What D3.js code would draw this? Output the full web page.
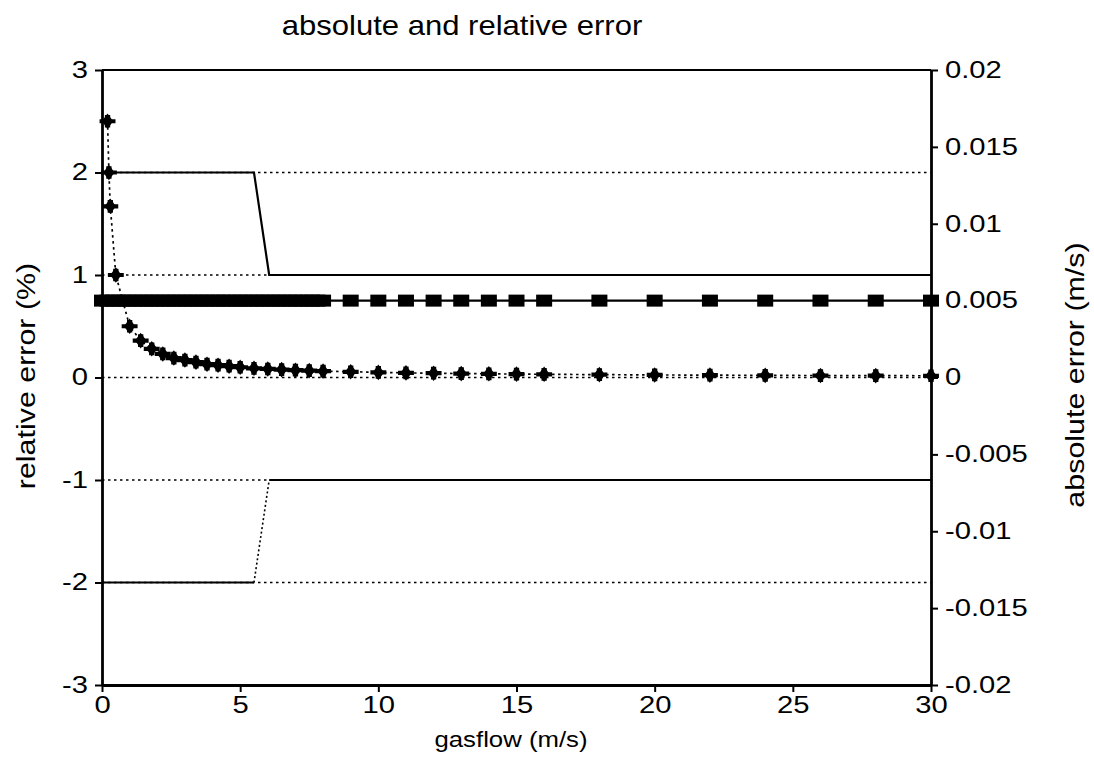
<!DOCTYPE html>
<html>
<head>
<meta charset="utf-8">
<script src="https://cdn.jsdelivr.net/npm/d3@7"></script>
<style>
  html, body { margin: 0; padding: 0; background: #fff; }
  svg text { font-family: "Liberation Sans", Arial, Helvetica, sans-serif; fill: #000; }
</style>
</head>
<body>
<svg id="chart" width="1094" height="766"></svg>
<script>
// ── Data ───────────────────────────────────────────────
// absolute error series (right axis, m/s)
const absX = [0, 0.2, 0.4, 0.6, 0.8, 1, 1.2, 1.4, 1.6, 1.8, 2, 2.2, 2.4, 2.6, 2.8, 3,
  3.2, 3.4, 3.6, 3.8, 4, 4.2, 4.4, 4.6, 4.8, 5, 5.2, 5.4, 5.6, 5.8, 6, 6.2, 6.4, 6.6,
  6.8, 7, 7.2, 7.4, 7.6, 7.8, 8, 9, 10, 11, 12, 13, 14, 15, 16, 18, 20, 22, 24, 26, 28, 30];
const absErr = [0.005, 0.005, 0.005, 0.005, 0.005, 0.005, 0.005, 0.005, 0.005, 0.005,
  0.005, 0.005, 0.005, 0.005, 0.005, 0.005, 0.005, 0.005, 0.005, 0.005, 0.005, 0.005,
  0.005, 0.005, 0.005, 0.005, 0.005, 0.005, 0.005, 0.005, 0.005, 0.005, 0.005, 0.005,
  0.005, 0.005, 0.005, 0.005, 0.005, 0.005, 0.005, 0.005, 0.005, 0.005, 0.005, 0.005,
  0.005, 0.005, 0.005, 0.005, 0.005, 0.005, 0.005, 0.005, 0.005, 0.005];

// relative error series (left axis, %)
const relX = [0.2, 0.25, 0.3, 0.5, 1, 1.4, 1.8, 2.2, 2.6, 3, 3.4, 3.8, 4.2, 4.6, 5, 5.5,
  6, 6.5, 7, 7.5, 8, 9, 10, 11, 12, 13, 14, 15, 16, 18, 20, 22, 24, 26, 28, 30];
const relErr = [2.5, 2.0, 1.67, 1.0, 0.5, 0.36, 0.28, 0.23, 0.19, 0.17, 0.15, 0.13,
  0.12, 0.11, 0.1, 0.09, 0.083, 0.077, 0.071, 0.067, 0.062, 0.056, 0.05, 0.045, 0.042,
  0.038, 0.036, 0.033, 0.031, 0.028, 0.025, 0.023, 0.021, 0.019, 0.018, 0.017];

// limit lines (left axis, %)
const upperX = [0, 5.5, 6.05, 30];
const upperY = [2, 2, 1, 1];
const lowerX = [0, 5.5, 6.05, 30];
const lowerY = [-2, -2, -1, -1];

// dotted reference levels (left axis, %)
const refLevels = [2, 1, 0, -1, -2];

const xTicks = [0, 5, 10, 15, 20, 25, 30];
const yLeftTicks = [3, 2, 1, 0, -1, -2, -3];
const yRightTicks = [0.02, 0.015, 0.01, 0.005, 0, -0.005, -0.01, -0.015, -0.02];
const yRightLabels = ['0.02', '0.015', '0.01', '0.005', '0', '-0.005', '-0.01', '-0.015', '-0.02'];

// ── Layout ─────────────────────────────────────────────
const L = 102, R = 931, T = 70, B = 685;
const TICK_STRETCH = 1.27;   // scanned lettering is wider than Liberation Sans
const svg = d3.select('#chart');

const x  = d3.scaleLinear().domain([0, 30]).range([L, R]);
const yL = d3.scaleLinear().domain([-3, 3]).range([B, T]);
const yR = d3.scaleLinear().domain([-0.02, 0.02]).range([B, T]);

const DOT = '2.5,3.5';

// reference dotted lines
svg.append('g').selectAll('line').data(refLevels).join('line')
  .attr('x1', x(0)).attr('x2', x(30))
  .attr('y1', d => yL(d)).attr('y2', d => yL(d))
  .attr('stroke', '#000').attr('stroke-width', 1.7)
  .attr('stroke-dasharray', DOT);

// upper limit (solid)
const upper = upperX.map((v, i) => [v, upperY[i]]);
svg.append('path')
  .attr('d', d3.line().x(d => x(d[0])).y(d => yL(d[1]))(upper))
  .attr('fill', 'none').attr('stroke', '#000').attr('stroke-width', 2.2);

// lower limit: solid flats, dotted step
const lower = lowerX.map((v, i) => [v, lowerY[i]]);
const lowLine = d3.line().x(d => x(d[0])).y(d => yL(d[1]));
svg.append('path').attr('d', lowLine(lower.slice(0, 2)))
  .attr('fill', 'none').attr('stroke', '#000').attr('stroke-width', 1.8);
svg.append('path').attr('d', lowLine(lower.slice(2)))
  .attr('fill', 'none').attr('stroke', '#000').attr('stroke-width', 2.2);
svg.append('path').attr('d', lowLine(lower.slice(1, 3)))
  .attr('fill', 'none').attr('stroke', '#000').attr('stroke-width', 1.6)
  .attr('stroke-dasharray', '2,2.5');

// absolute error: solid line + squares
const absPts = absX.map((v, i) => [v, absErr[i]]);
svg.append('path')
  .attr('d', d3.line().x(d => x(d[0])).y(d => yR(d[1]))(absPts))
  .attr('fill', 'none').attr('stroke', '#000').attr('stroke-width', 2.2);
svg.append('g').selectAll('rect').data(absPts).join('rect')
  .attr('x', d => x(d[0]) - 8).attr('y', d => yR(d[1]) - 6)
  .attr('width', 16).attr('height', 12)
  .attr('fill', '#000');

// relative error: dotted line + star markers
const relPts = relX.map((v, i) => [v, relErr[i]]);
svg.append('path')
  .attr('d', d3.line().x(d => x(d[0])).y(d => yL(d[1]))(relPts))
  .attr('fill', 'none').attr('stroke', '#000').attr('stroke-width', 1.7)
  .attr('stroke-dasharray', DOT);
const mk = svg.append('g').selectAll('g').data(relPts).join('g')
  .attr('transform', d => `translate(${x(d[0])},${yL(d[1])}) scale(1.25,1)`);
mk.append('path').attr('d', d3.symbol(d3.symbolCross, 90)()).attr('fill', '#000');
mk.append('path').attr('d', d3.symbol(d3.symbolDiamond, 70)()).attr('fill', '#000');

// ── Axes ───────────────────────────────────────────────
// top frame
svg.append('line')
  .attr('x1', L).attr('x2', R).attr('y1', T).attr('y2', T)
  .attr('stroke', '#000').attr('stroke-width', 2.2);

function styleAxis(g) {
  g.select('.domain').attr('stroke', '#000').attr('stroke-width', 2.8);
  g.selectAll('.tick line').attr('stroke', '#000').attr('stroke-width', 2);
  g.selectAll('.tick text')
    .attr('font-size', 23)
    .attr('font-family', '"Liberation Sans", Arial, sans-serif')
    .attr('fill', '#000')
    .attr('transform', `scale(${TICK_STRETCH},1)`);
}

svg.append('g')
  .attr('transform', `translate(0,${B})`)
  .call(d3.axisBottom(x).tickValues(xTicks).tickSize(7).tickSizeOuter(0).tickPadding(5))
  .call(styleAxis);

svg.append('g')
  .attr('transform', `translate(${L},0)`)
  .call(d3.axisLeft(yL).tickValues(yLeftTicks).tickSize(7).tickSizeOuter(0).tickPadding(4)
    .tickFormat(d => String(d)))
  .call(styleAxis);

svg.append('g')
  .attr('transform', `translate(${R},0)`)
  .call(d3.axisRight(yR).tickValues(yRightTicks).tickSize(7).tickSizeOuter(0).tickPadding(4)
    .tickFormat((d, i) => yRightLabels[i]))
  .call(styleAxis);

// ── Labels ─────────────────────────────────────────────
svg.append('text')
  .attr('transform', 'translate(462,35) scale(1.15,1)')
  .attr('text-anchor', 'middle')
  .attr('font-size', 27)
  .text('absolute and relative error');

svg.append('text')
  .attr('transform', 'translate(511,747) scale(1.12,1)')
  .attr('text-anchor', 'middle')
  .attr('font-size', 23)
  .text('gasflow (m/s)');

svg.append('text')
  .attr('transform', 'translate(35,376) rotate(-90) scale(1.17,1)')
  .attr('text-anchor', 'middle')
  .attr('font-size', 26)
  .text('relative error (%)');

svg.append('text')
  .attr('transform', 'translate(1084,375) rotate(-90) scale(1.17,1)')
  .attr('text-anchor', 'middle')
  .attr('font-size', 26)
  .text('absolute error (m/s)');
</script>
</body>
</html>
